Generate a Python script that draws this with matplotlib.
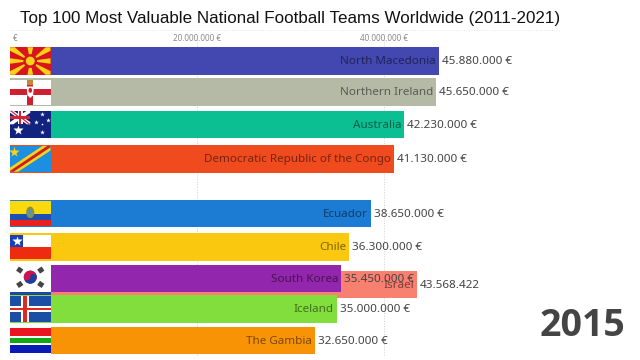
#!/usr/bin/env python3
import numpy as np
import matplotlib
matplotlib.use('Agg')
import matplotlib.pyplot as plt
from matplotlib.patches import Polygon, Rectangle, Ellipse

teams = ['Israel', 'North Macedonia', 'Northern Ireland', 'Australia',
         'Democratic Republic of the Congo', 'Ecuador', 'Chile', 'South Korea',
         'Iceland', 'The Gambia']
values = [43568422, 45880000, 45650000, 42230000, 41130000, 38650000,
          36300000, 35450000, 35000000, 32650000]
# rank while the bars are moving, so not whole numbers
ranks = [7.10, 0, 0.984, 2.01, 3.105, 4.84, 5.91, 6.90, 7.87, 8.87]
colors = ['#f88070', '#4347b0', '#b4baa5', '#0cbf92', '#ef4b1e', '#1c7bd3',
          '#fac90f', '#9226ad', '#82de3c', '#f79305']
suffix = [''] + [' €'] * 9
ticks = [0, 20000000, 40000000]
tick_labels = ['€', '20.000.000 €', '40.000.000 €']
title = 'Top 100 Most Valuable National Football Teams Worldwide (2011-2021)'
year = '2015'

BAR_H = 0.873
FLAG_W = 4340000

fig = plt.figure(figsize=(6.4, 3.6), dpi=100)
ax = fig.add_axes([0, 0, 1, 1])
ax.set_xlim(-1070000, 67450000)
ax.set_ylim((360 - 61) / 31.5, -61 / 31.5)
ax.axis('off')


class Flag:
    # draws in 0-1 flag coordinates, y going down
    def __init__(self, rank, z):
        self.x0 = 0
        self.y0 = rank - BAR_H / 2
        self.z = z

    def pt(self, x, y):
        return (self.x0 + x * FLAG_W, self.y0 + y * BAR_H)

    def rect(self, x, y, w, h, c):
        ax.add_patch(Rectangle(self.pt(x, y), w * FLAG_W, h * BAR_H, fc=c, ec='none', zorder=self.z))

    def poly(self, pts, c):
        ax.add_patch(Polygon([self.pt(*p) for p in pts], closed=True, fc=c, ec='none', zorder=self.z))

    def dot(self, x, y, w, h, c):
        ax.add_patch(Ellipse(self.pt(x, y), w * FLAG_W, h * BAR_H, fc=c, ec='none', zorder=self.z))

    def star(self, x, y, s, c):
        ax.plot(*self.pt(x, y), marker='*', ms=s, mfc=c, mec='none', zorder=self.z, ls='none')


def israel(f):
    f.rect(0, 0, 1, 1, 'white')
    f.rect(0, 0.76, 1, 0.13, '#1d46a8')
    f.rect(0, 0.06, 1, 0.13, '#1d46a8')


def macedonia(f):
    f.rect(0, 0, 1, 1, '#d8141c')
    yel = '#fbd116'
    for pts in [[(0.43, 0), (0.57, 0)], [(0.43, 1), (0.57, 1)],
                [(0, 0.4), (0, 0.6)], [(1, 0.4), (1, 0.6)],
                [(0, 0.13), (0, 0), (0.12, 0)], [(1, 0.13), (1, 0), (0.88, 0)],
                [(0, 0.87), (0, 1), (0.12, 1)], [(1, 0.87), (1, 1), (0.88, 1)]]:
        f.poly([(0.5, 0.5)] + pts, yel)
    f.dot(0.5, 0.5, 0.34, 0.5, '#d8141c')
    f.dot(0.5, 0.5, 0.22, 0.32, yel)


def n_ireland(f):
    f.rect(0, 0.06, 1, 0.9, 'white')
    f.rect(0.43, 0.06, 0.14, 0.9, '#cf2030')
    f.rect(0, 0.4, 1, 0.2, '#cf2030')
    f.rect(0.43, 0.06, 0.14, 0.2, '#c9863a')
    f.poly([(0.41, 0.3), (0.59, 0.3), (0.57, 0.62), (0.5, 0.72), (0.43, 0.62)], 'white')
    f.dot(0.5, 0.44, 0.09, 0.18, '#cf2030')


def australia(f):
    f.rect(0, 0, 1, 1, '#12237f')
    f.poly([(0, 0), (0.08, 0), (0.5, 0.42), (0.5, 0.5), (0.42, 0.5), (0, 0.08)], 'white')
    f.poly([(0.5, 0), (0.42, 0), (0, 0.42), (0, 0.5), (0.08, 0.5), (0.5, 0.08)], 'white')
    f.rect(0.19, 0, 0.12, 0.5, 'white')
    f.rect(0, 0.18, 0.5, 0.14, 'white')
    f.rect(0.22, 0, 0.06, 0.5, '#d2243a')
    f.rect(0, 0.21, 0.5, 0.08, '#d2243a')
    f.poly([(0, 0.01), (0.04, 0), (0.22, 0.21), (0.17, 0.21)], '#d2243a')
    f.poly([(0.5, 0.49), (0.46, 0.5), (0.28, 0.29), (0.33, 0.29)], '#d2243a')
    f.star(0.2, 0.7, 7, 'white')
    for x, y, s in [(0.8, 0.14, 3.5), (0.65, 0.42, 3.5), (0.8, 0.78, 3.5), (0.93, 0.36, 3.5), (0.8, 0.48, 2)]:
        f.star(x, y, s, 'white')


def congo(f):
    f.rect(0, 0.03, 1, 0.94, '#1c8fe0')
    f.poly([(0, 0.82), (0.8, 0.03), (1, 0.03), (1, 0.2), (0.2, 0.97), (0, 0.97)], '#f6d219')
    f.poly([(0, 0.94), (0.92, 0.03), (1, 0.03), (1, 0.08), (0.09, 0.97), (0, 0.97)], '#c8202a')
    f.star(0.1, 0.25, 8, '#f6d219')


def ecuador(f):
    f.rect(0, 0.05, 1, 0.9, '#1f4fb0')
    f.rect(0, 0.05, 1, 0.47, '#fad90f')
    f.rect(0, 0.75, 1, 0.2, '#e8211d')
    f.dot(0.5, 0.46, 0.2, 0.42, '#8f8f3f')
    f.dot(0.5, 0.47, 0.11, 0.22, '#4f9ab0')


def chile(f):
    f.rect(0, 0.06, 1, 0.44, 'white')
    f.rect(0, 0.5, 1, 0.44, '#ee2a10')
    f.rect(0, 0.06, 0.33, 0.44, '#1a3fb8')
    f.star(0.165, 0.28, 7, 'white')


def korea(f):
    f.rect(0, 0, 1, 1, 'white')
    t = np.radians(np.linspace(200, 380, 30))
    f.dot(0.5, 0.46, 0.32, 0.48, '#1a3f9c')
    f.poly(list(zip(0.5 + 0.16 * np.cos(t), 0.46 + 0.24 * np.sin(t))), '#d6104a')
    f.dot(0.58, 0.44, 0.16, 0.2, '#1a3f9c')
    f.dot(0.42, 0.46, 0.16, 0.22, '#d6104a')
    for x, y, a in [(0.24, 0.2, 1), (0.76, 0.2, -1), (0.24, 0.72, -1), (0.76, 0.72, 1)]:
        f.poly([(x - 0.09 * a, y + 0.02), (x - 0.02 * a, y - 0.13), (x + 0.09 * a, y - 0.02), (x + 0.02 * a, y + 0.13)], '#444444')


def iceland(f):
    f.rect(0, 0.03, 1, 0.94, '#1b4fa5')
    f.rect(0.28, 0.03, 0.2, 0.94, 'white')
    f.rect(0, 0.38, 1, 0.24, 'white')
    f.rect(0.33, 0.03, 0.1, 0.94, '#dc2a20')
    f.rect(0, 0.45, 1, 0.1, '#dc2a20')


def gambia(f):
    f.rect(0, 0, 1, 1, 'white')
    f.rect(0, 0.06, 1, 0.28, '#ec1420')
    f.rect(0, 0.41, 1, 0.2, '#12a812')
    f.rect(0, 0.68, 1, 0.28, '#0a1ab4')


flag_funcs = [israel, macedonia, n_ireland, australia, congo, ecuador, chile, korea, iceland, gambia]

ax.plot([0, 59000000], [-0.97, -0.97], color='#e4e4e4', lw=0.7, ls=':', zorder=1)
for t, lab in zip(ticks, tick_labels):
    if t > 0:
        ax.plot([t, t], [-0.75, 9.35], color='#cfcfcf', lw=0.7, ls=':', zorder=1)
    ax.annotate(lab, (t, -0.73), xytext=(2 if t == 0 else 0, 0), textcoords='offset points',
                ha='left' if t == 0 else 'center', va='center', fontsize=5.8,
                color='#8a8a8a', family='Noto Sans')

for i, (name, v, r, c) in enumerate(zip(teams, values, ranks, colors)):
    z = 2 + i * 0.1
    ax.barh(r, v, height=BAR_H, color=c, zorder=z)
    flag_funcs[i](Flag(r, z + 0.01))
    ax.annotate(name, (v, r), xytext=(-2.2, -0.5), textcoords='offset points', ha='right', va='center',
                fontsize=8.4, color='black', alpha=0.5, family='Noto Sans', zorder=z + 0.02)
    txt = f'{v:,}'.replace(',', '.') + suffix[i]
    ax.annotate(txt, (v, r), xytext=(2.2, -0.5), textcoords='offset points', ha='left', va='center',
                fontsize=8.4, color='#444444', family='Noto Sans', zorder=z + 0.02)

fig.text(20 / 640, 1 - 19 / 360, title, fontsize=12.26, family='Liberation Sans', color='#111111',
         ha='left', va='center')
fig.text(625 / 640, 1 - 326 / 360, year, fontsize=27, fontweight='bold', family='Open Sans',
         color='#444444', ha='right', va='center')

fig.savefig('out.png', dpi=100)
